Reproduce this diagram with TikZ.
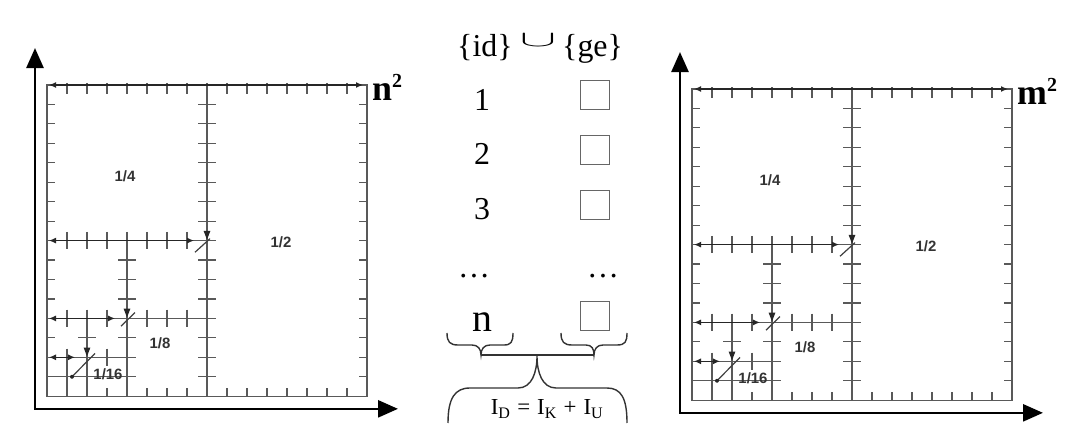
\documentclass[tikz,border=0pt]{standalone}
\usepackage{fontspec}
\usepackage{graphicx}
\setmainfont{Liberation Serif}
\newfontfamily\lblfont[BoldFont={Liberation Sans Bold}]{Liberation Sans}
\usetikzlibrary{arrows.meta}

\tikzset{
  gridline/.style={draw=black!65, line width=1.4bp},
  tickline/.style={draw=black!65, line width=1.2bp},
  axisline/.style={draw=black, line width=2.6bp,
    {Triangle[length=20bp,width=17bp]}-{Triangle[length=20bp,width=17bp]}},
  spanarrow/.style={draw=black!85, line width=1.2bp,
    {Latex[length=7bp,width=6bp]}-{Latex[length=7bp,width=6bp]}},
  slash/.style={draw=black!75, line width=1.2bp},
  fraclabel/.style={font=\lblfont\bfseries\fontsize{15}{15}\selectfont, text=black!80, inner sep=0pt},
  powlabel/.style={font=\bfseries\fontsize{36}{36}\selectfont, inner sep=0pt, anchor=base west},
  bigtext/.style={font=\fontsize{32}{32}\selectfont, inner sep=0pt, anchor=base},
  cell/.style={draw=black!60, line width=0.9bp, minimum size=29bp, inner sep=0pt},
  bracepath/.style={draw=black!80, line width=1.4bp},
}

% #1 prefix, #2 x of box corner, #3 y of box corner, #4 letter
\newcommand{\quadpanel}[4]{%
\begin{scope}[shift={(#2,#3)}, x=20bp, y=-19.45bp]
  % axes
  \coordinate (#1-o) at (-0.6,16.65);
  \coordinate (#1-ytip) at (-0.6,-1.9);
  \coordinate (#1-xtip) at (17.55,16.65);
  \draw[axisline] (#1-ytip) -- (#1-o) -- (#1-xtip);
  % outer box and subdivisions
  \draw[gridline] (0,0) rectangle (16,16);
  \draw[gridline] (8,0) -- (8,16);
  \draw[gridline] (0,8) -- (8,8);
  \draw[gridline] (4,8) -- (4,16);
  \draw[gridline] (0,12) -- (8,12);
  \draw[gridline] (2,12) -- (2,16);
  \draw[gridline] (0,14) -- (4,14);
  \draw[gridline] (1,14) -- (1,16);
  \draw[gridline] (0,15) -- (4,15);
  % ticks on the box
  \foreach \i in {1,...,15} {
    \draw[tickline] (\i,-0.1) -- (\i,0.45);
    \draw[tickline] (\i,16) -- (\i,15.58);
    \draw[tickline] (0,\i) -- (0.42,\i);
    \draw[tickline] (16,\i) -- (15.58,\i);
    \draw[tickline] (7.55,\i) -- (8.45,\i);
  }
  \foreach \i in {1,...,7} {
    \draw[tickline] (\i,7.55) -- (\i,8.45);
    \draw[tickline] (\i,11.55) -- (\i,12.45);
  }
  \foreach \i in {9,...,15} \draw[tickline] (3.55,\i) -- (4.45,\i);
  \foreach \i in {13} \draw[tickline] (1.55,\i) -- (2.45,\i);
  \foreach \i in {1,2,3} \draw[tickline] (\i,13.55) -- (\i,14.45);
  % span arrows
  \draw[spanarrow] (0.1,0) -- (15.8,0);
  \draw[spanarrow] (0.1,8) -- (7.35,8);
  \draw[spanarrow] (0.1,12) -- (3.4,12);
  \draw[spanarrow] (0.1,14) -- (1.4,14);
  % markers at the corners
  \fill[black!85] (7.83,7.5) -- (8.17,7.5) -- (8,7.95) -- cycle;
  \draw[slash] (7.4,8.6) -- (8.15,7.9);
  \fill[black!85] (3.83,11.5) -- (4.17,11.5) -- (4,11.95) -- cycle;
  \draw[slash] (3.7,12.4) -- (4.4,11.7);
  \fill[black!85] (1.83,13.5) -- (2.17,13.5) -- (2,13.95) -- cycle;
  \draw[slash] (1.25,15) -- (2.4,13.8);
  \fill[black!85] (1.25,15) circle (2bp);
  % labels
  \node[fraclabel] (#1-q) at (3.9,4.7) {1/4};
  \node[fraclabel] (#1-h) at (11.7,8.07) {1/2};
  \node[fraclabel] (#1-e) at (5.65,13.3) {1/8};
  \node[fraclabel] (#1-s) at (3.05,14.85) {1/16};
  \node[powlabel] (#1-pow) at (16.25,0.82) {#4\raisebox{13bp}{\fontsize{20}{20}\selectfont 2}};
\end{scope}}

\begin{document}
\begin{tikzpicture}[x=1bp,y=-1bp]
\fill[white] (0,0) rectangle (1088,443);
\useasboundingbox (0,0) rectangle (1088,443);

\quadpanel{L}{47}{85}{n}
\quadpanel{R}{692}{89}{m}

% middle column
\node[font=\fontsize{32}{32}\selectfont, inner sep=0pt, anchor=base west] (hdrid) at (457,57) {\{id\}};
\node[inner sep=0pt, anchor=south] (hdrcup) at (538,47) {\fontsize{32}{32}\selectfont\scalebox{2.2}[0.9]{$\cup$}};
\node[font=\fontsize{32}{32}\selectfont, inner sep=0pt, anchor=base west] (hdrge) at (562,57) {\{ge\}};
\node[bigtext] (one) at (482,111) {1};
\node[bigtext] (two) at (482,165) {2};
\node[bigtext] (three) at (482,220) {3};
\node[bigtext] (dotsl) at (474,278) {…};
\node[font=\fontsize{40}{40}\selectfont, inner sep=0pt, anchor=base] (enn) at (482,332) {n};
\node[cell] (sq1) at (594.5,95) {};
\node[cell] (sq2) at (594.5,149.5) {};
\node[cell] (sq3) at (594.5,205) {};
\node[bigtext] (dotsr) at (603,278) {…};
\node[cell] (sqn) at (594.5,316) {};

% small braces
\draw[bracepath] (447,333) .. controls (447,342) and (450,345) .. (458,345) -- (472,345)
  .. controls (478,345) and (481,349) .. (481,355)
  .. controls (481,349) and (484,345) .. (490,345) -- (504,345)
  .. controls (511,345) and (513,342) .. (513,333);
\draw[bracepath] (561,333) .. controls (561,342) and (564,345) .. (572,345) -- (586,345)
  .. controls (592,345) and (594,349) .. (594,355)
  .. controls (594,349) and (597,345) .. (603,345) -- (617,345)
  .. controls (625,345) and (627,342) .. (627,333);
\coordinate (tipl) at (481,355);
\coordinate (tipr) at (594,355);
\draw[bracepath] (tipl) -- (tipr);
% big brace
\draw[bracepath] (448,423) .. controls (448,398) and (455,388) .. (470,388) -- (518,388)
  .. controls (532,388) and (537,372) .. (537,356)
  .. controls (537,372) and (542,388) .. (556,388) -- (607,388)
  .. controls (621,388) and (627,398) .. (627,423);
\node[font=\fontsize{23}{23}\selectfont, inner sep=0pt, anchor=base] (formula) at (547,415)
  {I\textsubscript{D}\hspace{0.3em}=\hspace{0.3em}I\textsubscript{K}\hspace{0.3em}+\hspace{0.3em}I\textsubscript{U}};
\end{tikzpicture}
\end{document}
